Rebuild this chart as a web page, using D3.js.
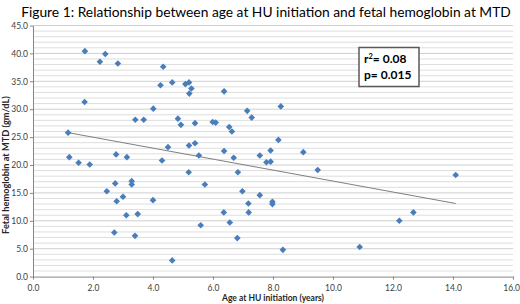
<!DOCTYPE html>
<html><head><meta charset="utf-8">
<script src="https://cdn.jsdelivr.net/npm/d3@7"></script>
<style>body{margin:0;background:#fff;} svg{display:block;}</style>
</head><body>
<script>
const titleText = "Figure 1: Relationship between age at HU initiation and fetal hemoglobin at MTD";
const xTitle = "Age at HU initiation (years)";
const yTitle = "Fetal hemoglobin at MTD (gm/dL)";
const xTicks = [0,2,4,6,8,10,12,14,16];
const yTicks = [0,5,10,15,20,25,30,35,40,45];
const ageYears = [1.17,1.21,1.52,1.72,1.73,1.89,2.23,2.41,2.46,2.71,2.74,2.77,2.79,2.83,3.0,3.11,3.13,3.29,3.29,3.4,3.41,3.49,3.69,4.0,4.01,4.25,4.3,4.34,4.5,4.64,4.64,4.83,4.93,5.08,5.19,5.2,5.2,5.21,5.28,5.4,5.4,5.53,5.59,5.73,5.99,6.09,6.36,6.37,6.37,6.54,6.56,6.63,6.69,6.81,6.83,6.98,7.14,7.18,7.19,7.29,7.56,7.56,7.78,7.92,7.92,7.98,7.98,8.18,8.26,8.33,9.01,9.49,10.89,12.21,12.68,14.09];
const hbf = [25.8,21.4,20.4,31.3,40.4,20.1,38.5,39.9,15.3,7.9,16.7,21.9,13.5,38.2,14.3,11.0,21.4,17.1,16.5,7.3,28.1,11.2,28.1,13.7,30.1,34.3,20.8,37.6,23.2,34.8,2.9,28.3,27.2,34.5,18.7,34.8,23.5,32.8,33.7,27.5,23.9,21.7,9.2,16.5,27.7,27.6,11.5,33.2,22.5,26.8,9.7,26.0,21.3,6.9,18.7,15.3,29.7,13.1,11.5,28.5,21.7,14.6,20.5,20.6,22.6,13.4,13.0,24.5,30.5,4.8,22.3,19.1,5.3,10.0,11.5,18.2];
const trendX = [1.17, 14.09];
const trendY = [25.8, 13.1];
const statLines = ["r", "p= 0.015"];

const W = 520, H = 304;
const L = 33, R = 513, T = 25.5, B = 276.6;
const svg = d3.select("body").append("svg").attr("width", W).attr("height", H);
const x = d3.scaleLinear().domain([0,16]).range([L,R]);
const y = d3.scaleLinear().domain([0,45]).range([B,T]);
const font = "Lato, 'Open Sans', 'Liberation Sans', sans-serif";

// gridlines every 1 unit
const grid = svg.append("g");
grid.selectAll("line").data(d3.range(1,46)).enter().append("line")
  .attr("x1", L).attr("x2", R)
  .attr("y1", d => y(d)).attr("y2", d => y(d))
  .attr("stroke", d => d % 5 === 0 ? "#cfcfcf" : "#dedede")
  .attr("stroke-width", 1);

// axes
const yAxis = svg.append("g").attr("transform", `translate(${L},0)`)
  .call(d3.axisLeft(y).tickValues(yTicks).tickFormat(d3.format(".1f")).tickSize(3).tickSizeOuter(0));
const xAxis = svg.append("g").attr("transform", `translate(0,${B})`)
  .call(d3.axisBottom(x).tickValues(xTicks).tickFormat(d3.format(".1f")).tickSize(3).tickSizeOuter(0));
[yAxis, xAxis].forEach(a => {
  a.select(".domain").attr("stroke", "#868686");
  a.selectAll(".tick line").attr("stroke", "#868686");
  a.selectAll("text").attr("fill", "#404040").attr("font-family", font).attr("font-size", 8.5);
});
yAxis.selectAll("text").attr("x", -5);
xAxis.selectAll("text").attr("y", 8);
xAxis.selectAll(".tick text").filter(d => d === 16).attr("text-anchor", "end").attr("x", 6.5);

// trendline
svg.append("line")
  .attr("x1", x(trendX[0])).attr("y1", y(trendY[0]))
  .attr("x2", x(trendX[1])).attr("y2", y(trendY[1]))
  .attr("stroke", "#808080").attr("stroke-width", 1);

// points
svg.append("g").selectAll("path").data(ageYears.map((a,i) => [a, hbf[i]])).enter().append("path")
  .attr("d", d3.symbol().type(d3.symbolSquare).size(22))
  .attr("transform", d => `translate(${x(d[0])},${y(d[1])}) rotate(45)`)
  .attr("fill", "#4a7ebb");

// title, sized to fit the reference span
const title = svg.append("text").attr("x", 266).attr("y", 17).attr("text-anchor", "middle")
  .attr("font-family", font).attr("font-size", 17).attr("fill", "#000")
  .text(titleText);
const tw = title.node().getComputedTextLength();
if (tw > 0) title.attr("font-size", 17 * 490 / tw);

// axis titles
svg.append("text").attr("x", 273).attr("y", 301).attr("text-anchor", "middle")
  .attr("font-family", font).attr("font-size", 8.5).attr("font-weight", "bold").attr("fill", "#262626")
  .text(xTitle);
svg.append("text").attr("transform", `translate(9,${(T+B)/2 + 14}) rotate(-90)`).attr("text-anchor", "middle")
  .attr("font-family", font).attr("font-size", 9.2).attr("font-weight", "bold").attr("fill", "#262626")
  .text(yTitle);

// stats box
svg.append("rect").attr("x", 359).attr("y", 47.5).attr("width", 60).attr("height", 39)
  .attr("fill", "#fff").attr("stroke", "#595959").attr("stroke-width", 1.5);
const t1 = svg.append("text").attr("x", 364).attr("y", 63).attr("font-family", font)
  .attr("font-size", 12).attr("font-weight", "bold").attr("fill", "#000");
t1.append("tspan").text(statLines[0]);
t1.append("tspan").attr("dy", -4).attr("font-size", 7.5).text("2");
t1.append("tspan").attr("dy", 4).text("= 0.08");
svg.append("text").attr("x", 364).attr("y", 78.5).attr("font-family", font)
  .attr("font-size", 12).attr("font-weight", "bold").attr("fill", "#000").text(statLines[1]);
</script>
</body></html>
